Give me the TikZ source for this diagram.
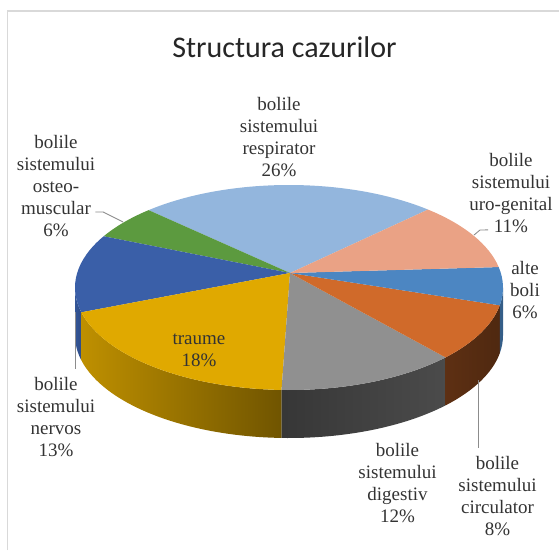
\documentclass[tikz,border=0pt]{standalone}
\usepackage{fontspec}
\newfontfamily\titlefont{Carlito}
\newfontfamily\labelfont{Liberation Serif}
\definecolor{resp}{HTML}{93B6DD}
\definecolor{uro}{HTML}{EAA285}
\definecolor{alte}{HTML}{4C86C2}
\definecolor{circ}{HTML}{D06A2A}
\definecolor{dige}{HTML}{909090}
\definecolor{traume}{HTML}{E0A900}
\definecolor{nerv}{HTML}{3A5FA8}
\definecolor{osteo}{HTML}{5C9A3F}
\definecolor{labeltext}{HTML}{333333}
\definecolor{titletext}{HTML}{262626}
\definecolor{leadergray}{HTML}{8C8C8C}
\definecolor{framegray}{HTML}{D9D9D9}

\tikzset{
  rim/.style={x radius=214, y radius=102.5},
  slicelabel/.style={font=\labelfont\fontsize{19}{22}\selectfont, text=labeltext, align=center, inner sep=0pt},
  leader/.style={draw=leadergray, line width=0.9pt},
}

\begin{document}
\begin{tikzpicture}[x=1pt, y=1pt]
  \useasboundingbox (0,0) rectangle (559,550);
  \draw[framegray, line width=1.5pt] (7.5,0) -- (7.5,539) -- (559,539);
  \node[font=\titlefont\fontsize{30}{36}\selectfont, text=titletext, anchor=base] (title) at (284.5,492) {Structura cazurilor};

  % pie, centred on the top ellipse
  \begin{scope}[shift={(289,262.5)}]
    \coordinate (apex) at (1,14.5);
    % front side
    \shade[left color=nerv!90!black, right color=nerv!80!black] (180:214 and 102.5) arc[rim, start angle=180, end angle=194] -- ++(0,-48) arc[rim, start angle=194, end angle=180] -- cycle;
    \shade[left color=traume!85!black, right color=traume!50!black] (194:214 and 102.5) arc[rim, start angle=194, end angle=268] -- ++(0,-48) arc[rim, start angle=268, end angle=194] -- cycle;
    \shade[left color=dige!38!black, right color=dige!52!black] (268:214 and 102.5) arc[rim, start angle=268, end angle=317] -- ++(0,-48) arc[rim, start angle=317, end angle=268] -- cycle;
    \shade[left color=circ!45!black, right color=circ!38!black] (317:214 and 102.5) arc[rim, start angle=317, end angle=350] -- ++(0,-48) arc[rim, start angle=350, end angle=317] -- cycle;
    \fill[alte!70!black] (350:214 and 102.5) arc[rim, start angle=350, end angle=360] -- ++(0,-48) arc[rim, start angle=360, end angle=350] -- cycle;
    % top face
    \fill[resp] (apex) -- (49.5:214 and 102.5) arc[rim, start angle=49.5, end angle=131] -- cycle;
    \fill[osteo] (apex) -- (131:214 and 102.5) arc[rim, start angle=131, end angle=150] -- cycle;
    \fill[nerv] (apex) -- (150:214 and 102.5) arc[rim, start angle=150, end angle=194] -- cycle;
    \fill[traume] (apex) -- (194:214 and 102.5) arc[rim, start angle=194, end angle=268] -- cycle;
    \fill[dige] (apex) -- (268:214 and 102.5) arc[rim, start angle=268, end angle=317] -- cycle;
    \fill[circ] (apex) -- (317:214 and 102.5) arc[rim, start angle=317, end angle=350] -- cycle;
    \fill[alte] (apex) -- (350:214 and 102.5) arc[rim, start angle=350, end angle=371.5] -- cycle;
    \fill[uro] (apex) -- (11.5:214 and 102.5) arc[rim, start angle=11.5, end angle=49.5] -- cycle;
  \end{scope}

  % labels
  \node[slicelabel] (resplabel) at (279,413) {bolile\\sistemului\\respirator\\26\%};
  \node[slicelabel] (urolabel) at (511,357) {bolile\\sistemului\\uro-genital\\11\%};
  \node[slicelabel] (altelabel) at (525,259.5) {alte\\boli\\6\%};
  \node[slicelabel] (osteolabel) at (56,364) {bolile\\sistemului\\osteo-\\muscular\\6\%};
  \node[slicelabel] (nervlabel) at (56,133) {bolile\\sistemului\\nervos\\13\%};
  \node[slicelabel] (traumelabel) at (199,200) {traume\\18\%};
  \node[slicelabel] (digelabel) at (397.5,67) {bolile\\sistemului\\digestiv\\12\%};
  \node[slicelabel] (circlabel) at (497.5,54) {bolile\\sistemului\\circulator\\8\%};

  % leader lines
  \coordinate (osteotip) at (123,328);
  \coordinate (urotip) at (474,315);
  \coordinate (nervtip) at (75,238);
  \coordinate (circtip) at (478,170);
  \draw[leader] ([yshift=-26]osteolabel.east) -- ++(8,0) -- (osteotip);
  \draw[leader] (urotip) -- ++(6,5) -- ([shift={(19,3)}]urolabel.south west);
  \draw[leader] (nervtip) -- ([yshift=8]nervtip |- nervlabel.north);
  \draw[leader] (circtip) -- ([yshift=8]circtip |- circlabel.north);
\end{tikzpicture}
\end{document}
